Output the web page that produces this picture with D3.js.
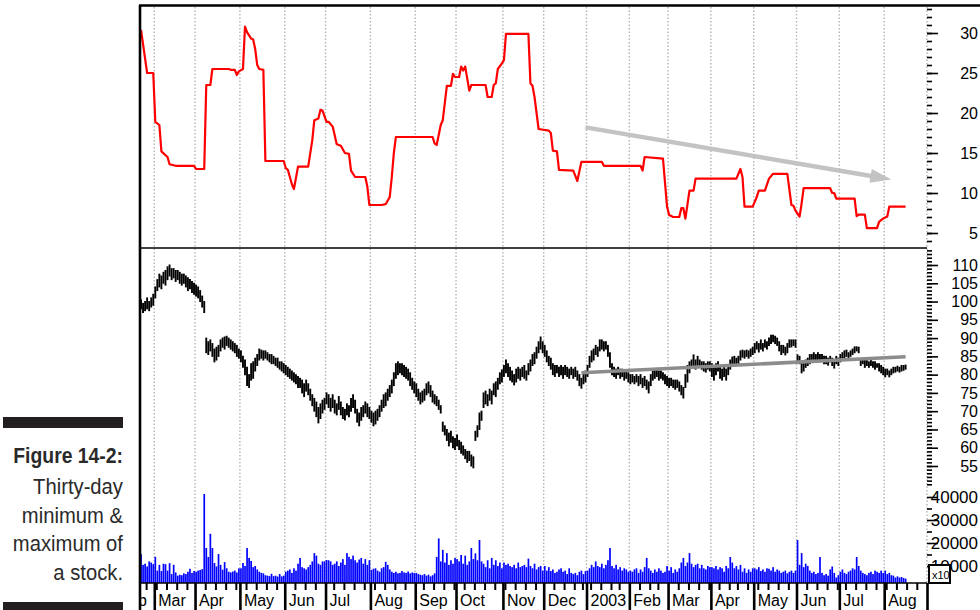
<!DOCTYPE html>
<html><head><meta charset="utf-8">
<script src="https://cdn.jsdelivr.net/npm/d3@7"></script>
<style>
body{margin:0;background:#fff;}
svg{display:block;}
</style></head><body>
<svg id="chart" width="980" height="610"></svg>
<script>
// ---- calendar -------------------------------------------------------------
const monthLabels = ["Feb","Mar","Apr","May","Jun","Jul","Aug","Sep","Oct","Nov","Dec","2003","Feb","Mar","Apr","May","Jun","Jul","Aug"];
const firstSession = "2002-02-20";
const lastSession = "2003-08-29";
const holidays = ["2002-03-29","2002-05-27","2002-07-04","2002-09-02","2002-11-28","2002-12-25",
  "2003-01-01","2003-01-20","2003-02-17","2003-04-18","2003-05-26","2003-07-04"];

// ---- daily price range (low / high), one row per month ----------------------
const priceLow = [
  98,97,97.5,98,97.5,98.5,99,
  101,103,104,103.5,105,104.5,106,107,106,106.5,105.5,106,105,104.5,105,104,103,103.5,102.5,102,
  101.5,101,100,98.5,97,86,85.5,86.5,85,83.5,84,85,86.5,87.5,87,88,87.5,87,86.5,86,85,84.5,
  83.5,82,80,77,76.5,78.5,79,81,82.5,84,84.5,84,84.5,84,83.5,83,83,82.5,82,81.5,81,80.5,
  80,79.5,79,78.5,78,77.5,76.5,76.5,75,74,75.5,74.5,73,71.5,70,68.5,66.8,68,69.5,70.5,
  72,71,70,71,69.5,69,70.5,69,68,67.6,69,68.5,70,71,69.5,67,66,67.5,68.5,69.5,68.5,68,
  67,66,66.5,67.5,68.5,70,71,71.5,73,74,75,77,79,80,80.5,80,79.5,79,78.5,77,76,75,
  74,73,72,72.5,73,74.5,75,74,72.5,72,71.5,70.5,69.5,64.5,63.5,62,60.5,61.5,60,59.5,
  60.5,59.5,58.5,58,57,56,56.5,55,54.5,62,63,65,67.5,71,72,71.5,73,72,74.5,74,76,77.5,78,
  79.5,80.5,79.5,78.5,78,77.2,78,79,78.5,79.5,79,78.5,80,81,82.5,83,84.5,86,87,86,
  85,83.5,82.5,81.5,80,79.5,80.5,79.5,80,79,80,79.5,79,80,79,79.5,78.5,77,76.3,77.5,78,
  79.5,82,83.5,84,85.5,85,86.5,87,86.5,87,85,82,80,79.5,79,80,79,79.5,78.5,79,78,
  77.5,78,77.5,78,77,77.5,76.5,77,76,75,77,78.5,79,79.5,78.5,79,78.5,77.5,77,
  76.5,77,76.5,76,76.5,75.5,74.5,73.6,76.5,78,80.5,82,82,81.5,82.5,82,81.5,81,80.7,81.5,81,
  79.5,78.5,80,81,79,78.5,79.5,78.5,80,81.5,82.5,83,82.5,83,84,84.8,84.5,85,84.5,85,85.5,
  86,87,86.2,87,86.5,87.5,87,88,88.5,89,88.5,88,86.5,85.5,86,85.4,86,87.5,87.6,88,87.5,
  83.5,83,80.5,81,82,82.5,83,83.5,84,83.5,84,83.5,84,83,83,82.6,83.5,82.5,81.8,83,82.5,
  83.5,84.5,84.5,85,84.5,85,85.5,86,86.5,86,82.5,83,82,82.5,82,82.5,82,81.5,82,81,80.5,80,
  79.4,80,79.4,80,80.5,80.7,81,80.7,81,81.2,81.5
];
const priceHigh = [
  100.5,99.5,100,101,100,101,102,
  104,106,107.5,107,108,108.5,109.5,110,109,109,108.5,108.5,108,107.5,107.5,107,106.5,106,105.5,105,
  104.5,104,103,101.5,100,90,89,89.5,88.5,87,87.5,88,89.5,90,90.3,90.5,90,89.5,89,88.5,88,87,
  86.5,85,84,82,80,83,83.5,84.5,85.5,87,86.7,86.5,86.5,86,85.5,85.5,85,84.5,84.5,83.5,83.5,83,
  82.5,82,81.5,81,80.5,80,79.5,79,78.5,77.5,78.5,77.5,76,74.5,73.5,72.5,71,72,73,73.5,
  75,74.5,73.5,74.5,73,72,74,72.5,71,70.5,72,71.5,73.5,74.5,73,70.5,69.5,71,71.5,72.5,72,71,
  70,69.5,70,70.5,71.5,73,74.5,75,76,77,78.5,80.5,83,83.5,83,83,82.5,82,81.5,80.5,79,78,
  77.5,76,75,75.5,76,77.5,78,77,75.5,74.5,74,73,71.5,67,66,65,64,64.5,63,62.5,
  63.5,62,61.5,60.5,59.5,59,59,58,57.5,64.5,66,69.5,70,75,75.5,74.5,76,75.5,77.5,78,79,80.5,81.3,
  82.5,84,83,82,81,80,81.5,82,81.5,82,82.5,81,83,84,85.5,86,87.5,89,90.3,89,
  88,86.5,85,84.5,83,82.5,82.5,82,82.5,82,82.5,82,81.5,82,81.5,82,81,80,79,80.5,81,
  82.5,85,86.5,87,88,87.5,89.5,89.5,89,89,88,86,83,82,81.5,82,81.5,81.5,81,81,80.5,
  80,80,79.5,80,79.5,80,79,79.5,78.5,78,80,81,81.5,81.5,81,81,80.5,80,79.5,
  79,79,78.5,78.5,78.5,78,77,76.5,80,82.5,83.5,84,85.4,84,85,84,83.5,83.5,83,83.5,83.5,
  83,82,83,83.5,82.5,81.5,82,81.5,82.5,84,84.8,85,84.5,85,86.5,86.7,86.5,86.7,86.5,87,87.5,
  88.5,89,88.5,89.5,88.5,89.5,89,90,90.8,90.8,90.5,90,89,88,88,87.5,88.5,89.5,89.5,89.5,89.5,
  85.4,85,83.5,83.5,84,84.5,85.5,85.5,86,85.5,86,85.5,85.5,85,85,84.5,85,84.5,84,85,84.5,
  85.5,86,86.5,86.7,86,86.5,87,87.6,87.6,87.5,84,84,84,84,83.5,84,83.5,83.5,83,83,82.5,82,
  81.5,81.5,81,81.5,82,82,82.3,82,82.5,82.5,82.6
];

// ---- daily volume ------------------------------------------------------------
const volume = [
  15200,10500,11000,9800,12000,11500,10800,
  14000,8000,10500,7800,11000,10800,8000,11200,6500,10500,7200,5800,6200,6000,6800,6500,7500,8800,7000,7800,
  7500,8000,8300,8600,41300,17800,13900,24000,17800,11300,9800,15200,10500,8400,11700,9000,7500,7200,7600,8000,7200,9000,
  9000,11300,10000,17800,13500,12200,9500,10000,8500,7500,7000,6800,6000,5800,5600,6600,5600,5800,5400,6500,5500,5800,
  7500,8000,8500,7000,9000,8000,11000,13500,9500,9000,8500,9500,10500,12000,15600,14500,11000,10500,12000,12000,
  12600,12500,12000,10500,11000,12000,10000,11500,13000,10500,15600,14000,13000,14500,12500,11500,12800,13500,11000,13000,10500,12500,
  8300,8800,9000,8000,7500,9000,9500,11800,10500,8500,7500,7000,7500,6800,7000,7800,7200,7000,7600,6800,7200,7000,
  7000,6500,6200,6000,6500,5800,6200,5500,6000,6800,13900,22000,12000,17000,11500,15600,10500,12500,11000,13500,
  13000,12000,14800,11000,14500,10500,12000,17800,13000,15500,12500,21300,12000,11000,9500,12500,9000,13500,10500,12500,10000,11500,9000,
  11500,10500,11000,10000,9500,10500,9000,11500,9500,10000,10500,9500,13200,10000,9000,11000,8500,9500,10000,8000,
  10000,8000,9500,7800,8500,7000,7500,8500,9000,7500,8000,6500,9000,7000,6500,7000,6000,7500,8000,6500,7800,
  8000,9000,10500,9500,12000,10000,9500,11000,9000,10500,12500,17800,10000,9000,10500,8500,9500,8000,9000,8500,7500,
  8000,7500,8500,9000,7000,8500,7500,9500,13500,9000,8000,7000,8500,7500,9000,8000,7000,7500,10000,
  8000,9500,7000,8500,7500,9000,11500,13500,10000,11500,15600,11000,9500,10500,11000,9000,10500,9000,8500,10000,9500,
  9500,9000,10000,8500,9500,9000,7500,10000,9000,13900,11500,9000,10000,8500,10500,7500,9000,7000,8500,7500,9000,
  9000,8500,9500,7800,8500,7500,9000,8800,8000,9500,7500,8500,8000,7000,7500,8000,6800,7500,8000,7000,8000,
  21300,10500,15600,9500,11000,10000,8000,7000,7500,6500,7000,13900,7000,6000,6500,5800,8500,9800,7000,5000,6000,
  7500,8500,7000,6500,7500,8000,9000,8500,13900,10000,8000,7000,6500,6000,7000,7500,6500,8000,7500,7000,8000,7000,
  8000,6500,7000,6000,5800,5000,5500,5000,5200,4800,4500
];

// ---- thirty-day range indicator: [session, value] ------------------------------
const rangeLine = [
  [0,30.4],[3,25],[6,25],[7,18.9],[9,18.5],[10,15.2],[13,14.5],[14,13.6],[17,13.4],[26,13.4],[27,13],[31,13],
  [32,23.5],[34,23.5],[35,25.5],[43,25.5],[44,25.4],[46,25.4],[47,24.75],[48,25.2],[50,25.5],[51,30.8],[52,30.1],
  [54,29.3],[55,29.2],[56,28],[57,26],[58,25.5],[60,25.4],[61,14],[70,14],[71,13.1],[72,12.9],[74,11.1],[75,10.5],
  [77,13.3],[82,13.3],[84,16.6],[85,19.1],[87,19.3],[88,20.4],[89,20.3],[91,18.9],[92,18.9],[94,18.3],[96,16.1],
  [98,15.9],[100,15],[102,14.9],[103,12.8],[105,12],[110,12],[111,10.8],[112,8.5],[118,8.5],[120,8.6],[122,9.5],
  [123,12],[124,15],[125,17],[143,17],[144,16.2],[145,16],[147,18.5],[148,19.1],[150,23.4],[152,23.4],[153,24.9],
  [154,24.5],[156,24.5],[157,25.8],[158,25.3],[159,25.8],[161,22.8],[162,23.5],[169,23.5],[170,22],[172,22],
  [173,23.5],[174,23.7],[175,25.5],[177,26.2],[178,26.6],[179,29.9],[190,29.9],[191,23.7],[192,23.4],[193,22],
  [195,18],[200,17.8],[201,17.5],[202,15.3],[204,15.2],[205,12.9],[212,12.8],[214,11.5],[216,13.9],[226,13.9],
  [227,13.4],[245,13.4],[246,12.8],[247,14.5],[256,14.3],[258,8.3],[259,7.25],[261,7],[264,7],[265,8.1],[266,8.1],
  [267,6.8],[269,10.3],[271,10.3],[272,11.8],[292,11.8],[294,13],[295,12],[296,8.3],[300,8.3],[302,9.5],[303,10.3],
  [306,10.3],[308,11.8],[310,12.4],[317,12.4],[319,8.5],[320,8.4],[321,7.8],[323,7.05],[324,8.7],[325,10.6],
  [338,10.6],[339,10],[340,10],[341,9.3],[350,9.3],[351,7.1],[352,7.3],[355,7.3],[356,5.6],[361,5.6],[362,6.4],
  [363,6.6],[364,6.8],[366,7.05],[367,8.3],[375,8.3]
];

// ---- trend lines: [session, value] ----------------------------------------------
const rangeTrend = [[218,18.2],[368,11.7]];
const priceTrend = [[216,80.5],[375,84.9]];

// ---- axis ticks --------------------------------------------------------------------
const rangeTicks = [5,10,15,20,25,30];
const priceTicks = [55,60,65,70,75,80,85,90,95,100,105,110];
const volumeTicks = [10000,20000,30000,40000];

// ---- caption -------------------------------------------------------------------------
const captionTitle = "Figure 14-2:";
const captionLines = ["Thirty-day","minimum &","maximum of","a stock."];

// =====================================================================================
const FONT = '"Liberation Sans", Arial, Helvetica, sans-serif';
const svg = d3.select("#chart");
const plotL = 140, plotR = 927, plotT = 5, paneSplit = 248, volBase = 583, axisEnd = 610;

const fmtDay = d3.utcFormat("%Y-%m-%d");
const holidaySet = new Set(holidays);
const sessions = d3.utcDay.range(d3.utcParse("%Y-%m-%d")(firstSession),
                                 d3.utcDay.offset(d3.utcParse("%Y-%m-%d")(lastSession), 1))
  .filter(d => d.getUTCDay() !== 0 && d.getUTCDay() !== 6 && !holidaySet.has(fmtDay(d)));

const monthStarts = [], weekStarts = [];
sessions.forEach((d, i) => {
  const p = sessions[i - 1];
  if (!p || p.getUTCMonth() !== d.getUTCMonth()) monthStarts.push(i);
  else if (+d3.utcMonday.floor(p) !== +d3.utcMonday.floor(d)) weekStarts.push(i);
});

const x = d3.scaleLinear().domain([0, sessions.length]).range([plotL, plotR]);
const step = x(1) - x(0);
const yRange = d3.scaleLinear().domain([5, 30]).range([233, 33]);
const yPrice = d3.scaleLinear().domain([55, 110]).range([466, 265]);
const yVol = d3.scaleLinear().domain([10000, 40000]).range([566, 497]);

// vertical month grid
svg.append("g").selectAll("line")
  .data(monthStarts.slice(1).concat([sessions.length]))
  .join("line")
  .attr("x1", d => x(d)).attr("x2", d => x(d))
  .attr("y1", plotT + 2).attr("y2", volBase)
  .attr("stroke", "#b4b4b4").attr("stroke-width", 1.4).attr("stroke-dasharray", "1.5,2");

// volume bars
svg.append("g").selectAll("rect")
  .data(volume)
  .join("rect")
  .attr("x", (d, i) => x(i) + 0.2)
  .attr("width", step - 0.35)
  .attr("y", d => Math.min(yVol(d), volBase))
  .attr("height", d => Math.max(0, volBase - yVol(d)))
  .attr("fill", "#0000ff");

// daily price bars
svg.append("g").selectAll("line")
  .data(priceLow)
  .join("line")
  .attr("x1", (d, i) => x(i + 0.5)).attr("x2", (d, i) => x(i + 0.5))
  .attr("y1", (d, i) => yPrice(priceHigh[i]) - 0.5)
  .attr("y2", d => yPrice(d) + 0.5)
  .attr("stroke", "#000").attr("stroke-width", 1.9);

// thirty-day range line
svg.append("path")
  .datum(rangeLine)
  .attr("d", d3.line().x(d => x(d[0] + 0.5)).y(d => yRange(d[1])))
  .attr("fill", "none").attr("stroke", "#ff0000").attr("stroke-width", 2.2)
  .attr("stroke-linejoin", "round");

// price trend line
svg.append("line")
  .attr("x1", x(priceTrend[0][0] + 0.5)).attr("y1", yPrice(priceTrend[0][1]))
  .attr("x2", x(priceTrend[1][0] + 0.5)).attr("y2", yPrice(priceTrend[1][1]))
  .attr("stroke", "#8c8c8c").attr("stroke-width", 3.6);

// range trend arrow
{
  const x0 = x(rangeTrend[0][0] + 0.5), y0 = yRange(rangeTrend[0][1]);
  const x1 = x(rangeTrend[1][0] + 0.5), y1 = yRange(rangeTrend[1][1]);
  const len = Math.hypot(x1 - x0, y1 - y0), ux = (x1 - x0) / len, uy = (y1 - y0) / len;
  const headL = 21, headW = 7;
  const bx = x1 - ux * headL, by = y1 - uy * headL;
  svg.append("line").attr("x1", x0).attr("y1", y0).attr("x2", bx + ux * 2).attr("y2", by + uy * 2)
    .attr("stroke", "#c3c3c3").attr("stroke-width", 4.5);
  svg.append("path")
    .attr("d", `M${x1},${y1}L${bx - uy * headW},${by + ux * headW}L${bx + uy * headW},${by - ux * headW}Z`)
    .attr("fill", "#c3c3c3");
}

// frame
svg.append("line").attr("x1", plotL - 1).attr("x2", 980).attr("y1", plotT + 0.5).attr("y2", plotT + 0.5)
  .attr("stroke", "#000").attr("stroke-width", 2.5);
svg.append("line").attr("x1", plotL).attr("x2", plotL).attr("y1", plotT).attr("y2", axisEnd)
  .attr("stroke", "#000").attr("stroke-width", 2.6);
svg.append("line").attr("x1", plotL).attr("x2", plotR).attr("y1", paneSplit).attr("y2", paneSplit)
  .attr("stroke", "#000").attr("stroke-width", 1.3);

// right-hand axes
function rightAxis(scale, majors, minors, size) {
  const gMinor = svg.append("g").attr("transform", `translate(${plotR},0)`)
    .call(d3.axisRight(scale).tickValues(minors).tickSize(5).tickFormat(""));
  const gMajor = svg.append("g").attr("transform", `translate(${plotR},0)`)
    .call(d3.axisRight(scale).tickValues(majors).tickSize(11).tickFormat(d3.format("d")))
    .attr("font-family", FONT).attr("font-size", size);
  [gMinor, gMajor].forEach(g => {
    g.select(".domain").remove();
    g.selectAll("line").attr("stroke", "#000").attr("stroke-width", 1.6);
  });
  gMajor.selectAll("text").attr("x", 51).attr("text-anchor", "end").attr("fill", "#000");
  return gMajor;
}
rightAxis(yRange, rangeTicks, d3.range(4, 34), 16);
rightAxis(yPrice, priceTicks, d3.range(50, 115), 16);
rightAxis(yVol, volumeTicks, [15000, 25000, 35000], 17);

// volume multiplier box
svg.append("rect").attr("x", 929).attr("y", 565).attr("width", 21).attr("height", 18)
  .attr("fill", "#fff").attr("stroke", "#000").attr("stroke-width", 2);
svg.append("text").attr("x", 932).attr("y", 579).attr("font-family", FONT).attr("font-size", 11)
  .text("x10");

// time axis
svg.append("line").attr("x1", plotL).attr("x2", plotR).attr("y1", volBase).attr("y2", volBase)
  .attr("stroke", "#000").attr("stroke-width", 1.6);
svg.append("g").attr("transform", `translate(0,${volBase})`)
  .call(d3.axisBottom(x).tickValues(weekStarts).tickSize(7).tickFormat(""))
  .call(g => g.select(".domain").remove())
  .selectAll("line").attr("stroke", "#000").attr("stroke-width", 2);
svg.append("g").attr("transform", `translate(0,${volBase})`)
  .call(d3.axisBottom(x).tickValues(monthStarts.slice(1).concat([sessions.length])).tickSize(axisEnd - volBase).tickFormat(""))
  .call(g => g.select(".domain").remove())
  .selectAll("line").attr("stroke", "#000").attr("stroke-width", 2.6);

svg.append("clipPath").attr("id", "axisClip")
  .append("rect").attr("x", plotL + 1).attr("y", volBase).attr("width", plotR - plotL).attr("height", axisEnd - volBase);
svg.append("g").attr("clip-path", "url(#axisClip)")
  .attr("font-family", FONT).attr("font-size", 16)
  .selectAll("text")
  .data(monthStarts)
  .join("text")
  .attr("x", (d, i) => i === 0 ? x(d) + 7 : x(d) + 4)
  .attr("text-anchor", (d, i) => i === 0 ? "end" : "start")
  .attr("y", 606)
  .text((d, i) => monthLabels[i]);

// caption
const cap = svg.append("g").attr("font-family", FONT).attr("fill", "#2a2a2a");
cap.append("rect").attr("x", 3).attr("y", 417).attr("width", 120).attr("height", 11).attr("fill", "#231f20");
cap.append("rect").attr("x", 3).attr("y", 602).attr("width", 120).attr("height", 10).attr("fill", "#231f20");
cap.append("text").attr("transform", "translate(123,463) scale(0.88,1)")
  .attr("text-anchor", "end").attr("font-weight", "bold").attr("font-size", 22)
  .text(captionTitle);
captionLines.forEach((t, i) => {
  cap.append("text").attr("transform", `translate(123,${494 + i * 28.5}) scale(0.92,1)`)
    .attr("text-anchor", "end").attr("font-size", 22).text(t);
});
</script>
</body></html>
